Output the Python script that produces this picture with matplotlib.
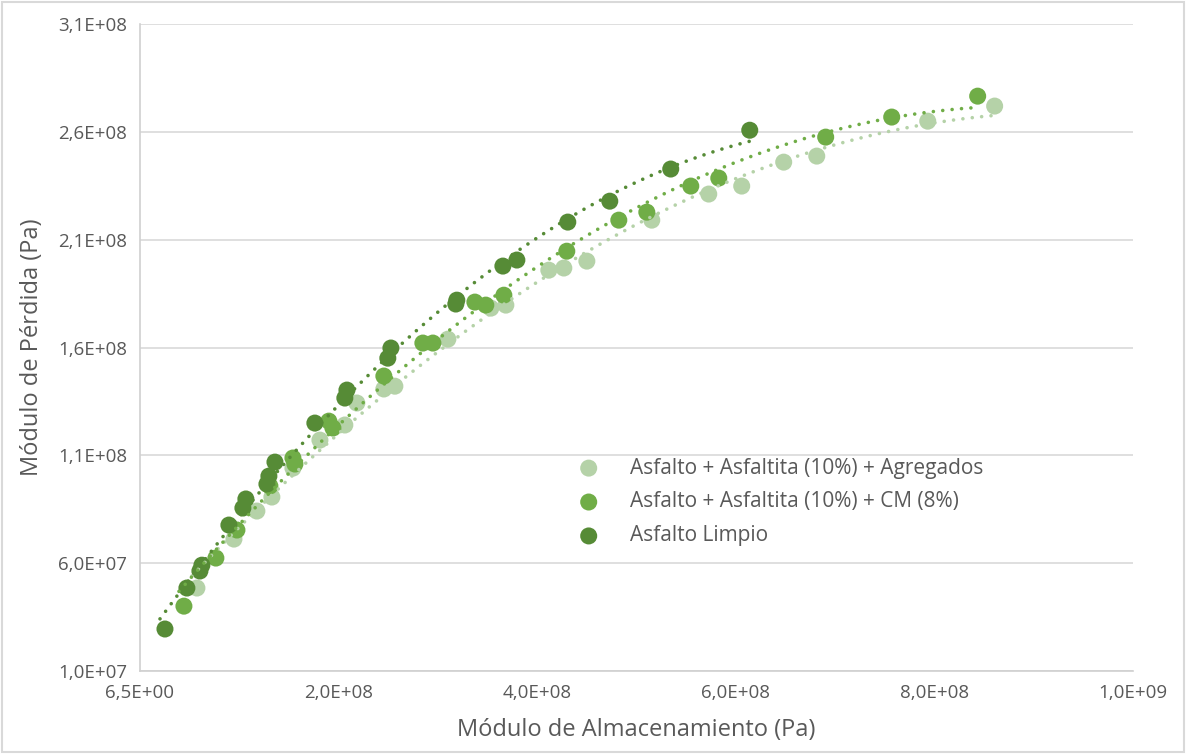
import numpy as np
import matplotlib
matplotlib.use("Agg")
from matplotlib import pyplot as plt, patches
from matplotlib.ticker import FuncFormatter, FixedLocator

# Datos (Pa)
agregados_x = [0.574, 0.947, 1.178, 1.329, 1.541, 1.813, 2.064, 2.185, 2.457, 2.568, 3.102, 3.535,
               3.686, 4.119, 4.270, 4.502, 5.156, 5.730, 6.062, 6.485, 6.818, 7.936, 8.610]
agregados_y = [0.485, 0.712, 0.842, 0.907, 1.041, 1.171, 1.241, 1.343, 1.408, 1.421, 1.639, 1.783,
               1.797, 1.959, 1.969, 2.001, 2.191, 2.312, 2.349, 2.460, 2.488, 2.650, 2.720]

cm_x = [0.443, 0.765, 0.977, 1.309, 1.541, 1.561, 1.903, 1.944, 2.457, 2.850, 2.951, 3.374,
        3.484, 3.666, 4.300, 4.824, 5.106, 5.549, 5.831, 6.908, 7.573, 8.439]
cm_y = [0.401, 0.624, 0.754, 0.958, 1.088, 1.060, 1.259, 1.227, 1.468, 1.621, 1.621, 1.811,
        1.797, 1.843, 2.047, 2.191, 2.228, 2.349, 2.386, 2.576, 2.669, 2.766]

limpio_x = [0.252, 0.473, 0.604, 0.624, 0.896, 1.037, 1.067, 1.279, 1.299, 1.360, 1.762, 2.064,
            2.085, 2.497, 2.528, 3.182, 3.192, 3.656, 3.797, 4.310, 4.733, 5.347, 6.143]
limpio_y = [0.295, 0.485, 0.564, 0.591, 0.777, 0.856, 0.898, 0.967, 1.004, 1.069, 1.250, 1.366,
            1.403, 1.551, 1.598, 1.802, 1.820, 1.978, 2.006, 2.182, 2.279, 2.428, 2.608]

labels = ["Asfalto + Asfaltita (10%) + Agregados", "Asfalto + Asfaltita (10%) + CM (8%)", "Asfalto Limpio"]
colors = ["#B5D2A8", "#70AD47", "#568B36"]

x_min, x_step = 6.5, 2e8
y_min, y_step = 1e7, 5e7

plt.rcParams["font.family"] = ["Open Sans", "DejaVu Sans"]
fig = plt.figure(figsize=(11.86, 7.54), dpi=100)
ax = fig.add_axes([0.118, 0.110, 0.837, 0.858])

series = [(agregados_x, agregados_y), (cm_x, cm_y), (limpio_x, limpio_y)]
for (xs, ys), lab, col in zip(series, labels, colors):
    x = np.array(xs) * 1e8
    y = np.array(ys) * 1e8
    ax.scatter(x, y, s=150, color=col, edgecolors="none", label=lab, zorder=3)
    # linea de tendencia polinomica (orden 2)
    coef = np.polyfit(x, y, 2)
    xt = np.linspace(x.min() - 5e6, x.max(), 200)
    ax.plot(xt, np.polyval(coef, xt), color=col, lw=2.6, linestyle=(0, (0.01, 2.6)),
            dash_capstyle="round", zorder=4)

ax.set_xlim(x_min, x_min + 5 * x_step)
ax.set_ylim(y_min, y_min + 6 * y_step)
ax.xaxis.set_major_locator(FixedLocator([x_min + k * x_step for k in range(6)]))
ax.yaxis.set_major_locator(FixedLocator([y_min + k * y_step for k in range(7)]))
fmt = FuncFormatter(lambda v, p: f"{v:.1E}".replace(".", ","))
ax.xaxis.set_major_formatter(fmt)
ax.yaxis.set_major_formatter(fmt)

ax.grid(axis="y", color="#D9D9D9", lw=1.2)
ax.set_axisbelow(True)
for side in ["top", "right"]:
    ax.spines[side].set_visible(False)
for side in ["left", "bottom"]:
    ax.spines[side].set_color("#D0D0D0")
    ax.spines[side].set_linewidth(1.2)
ax.tick_params(length=0, labelsize=13.5, labelcolor="#595959", pad=9)

ax.set_xlabel("Módulo de Almacenamiento (Pa)", fontsize=17, color="#595959", labelpad=12)
ax.set_ylabel("Módulo de Pérdida (Pa)", fontsize=17, color="#595959", labelpad=10)

ax.legend(loc="upper left", bbox_to_anchor=(0.463, 0.418), bbox_transform=fig.transFigure,
          frameon=False, fontsize=15, labelcolor="#595959", handletextpad=1.0,
          labelspacing=0.62, markerscale=1.0)

border = patches.Rectangle((0.002, 0.002), 0.996, 0.996, transform=fig.transFigure,
                           fill=False, edgecolor="#D9D9D9", lw=1.5)
fig.patches.append(border)

fig.savefig("out.png", dpi=100)
